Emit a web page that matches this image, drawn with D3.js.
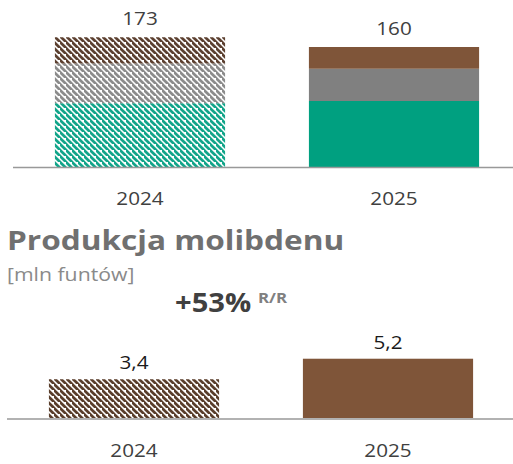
<!DOCTYPE html>
<html lang="pl">
<head>
<meta charset="UTF-8">
<title>Produkcja</title>
<script src="https://d3js.org/d3.v7.min.js"></script>
<style>
    html, body {
        margin: 0;
        background: #fff;
        font-family: "Open Sans", sans-serif;
    }
</style>
</head>
<body>
<div id="vis"></div>
<script>
    // dane
    var years = ["2024", "2025"];
    var seriesKeys = ["a", "b", "c"];            // od dołu: zielony, szary, brązowy
    var topValues = [
        {year: "2024", a: 85, b: 53, c: 35},
        {year: "2025", a: 88, b: 43, c: 29}
    ];
    var topTotals = ["173", "160"];
    var moValues = [3.4, 5.2];
    var moLabels = ["3,4", "5,2"];

    var colors = {a: "#00a080", b: "#808080", c: "#7f5539"};
    var hatchColors = {a: "#12a58a", b: "#8c8c8c", c: "#5c4030"};

    var W = 513, H = 464;
    var SX = 1.15;   // tekst w oryginale jest nieco szerszy

    var svg = d3.select("#vis").append("svg")
        .attr("width", W)
        .attr("height", H);

    // pozycjonowanie tekstu z rozciągnięciem w poziomie
    function place(sel, fx, fy, sx) {
        sel.attr("transform", function(d, i) {
            var x = typeof fx == "function" ? fx(d, i) : fx;
            var y = typeof fy == "function" ? fy(d, i) : fy;
            return "translate(" + x + "," + y + ") scale(" + (sx || SX) + ",1)";
        });
        return sel;
    }

    // wzory kreskowania
    var defs = svg.append("defs");
    function hatch(id, col) {
        var p = defs.append("pattern")
            .attr("id", id)
            .attr("patternUnits", "userSpaceOnUse")
            .attr("width", 6)
            .attr("height", 6);
        p.append("rect").attr("width", 6).attr("height", 6).attr("fill", "#fff");
        p.append("path")
            .attr("d", "M-1,-1 L7,7 M-4,2 L1,7 M5,-4 L10,1")
            .attr("stroke", col)
            .attr("stroke-width", 2.7);
    }
    seriesKeys.forEach(function(k) { hatch("h_" + k, hatchColors[k]); });
    hatch("h_mo", "#5a3e2b");

    /*
     *  GÓRNY WYKRES
     */
    var x1 = d3.scaleBand()
        .domain(years)
        .range([13, 521])
        .paddingInner(0.33)
        .paddingOuter(0.165);

    var y1 = d3.scaleLinear()
        .domain([0, 200])
        .range([167, 17]);

    var stack = d3.stack().keys(seriesKeys)(topValues);

    var g1 = svg.append("g");

    g1.selectAll(".layer")
        .data(stack)
        .enter()
        .append("g")
        .attr("class", "layer")
        .each(function(layer) {
            d3.select(this).selectAll("rect")
                .data(layer)
                .enter()
                .append("rect")
                .attr("x", function(d) { return x1(d.data.year); })
                .attr("width", x1.bandwidth())
                .attr("y", function(d) { return y1(d[1]); })
                .attr("height", function(d) { return y1(d[0]) - y1(d[1]); })
                .attr("fill", function(d, i) {
                    return i == 0 ? "url(#h_" + layer.key + ")" : colors[layer.key];
                });
        });

    g1.append("line")
        .attr("x1", 13).attr("x2", W)
        .attr("y1", 167.5).attr("y2", 167.5)
        .attr("stroke", "#999")
        .attr("stroke-width", 1.5);

    place(g1.selectAll(".total")
        .data(topValues)
        .enter()
        .append("text")
        .attr("class", "total")
        .attr("text-anchor", "middle")
        .attr("font-size", 18)
        .attr("fill", "#404040")
        .text(function(d, i) { return topTotals[i]; }),
        function(d) { return x1(d.year) + x1.bandwidth() / 2; },
        function(d) { return y1(d.a + d.b + d.c) - 12; });

    place(g1.selectAll(".year")
        .data(years)
        .enter()
        .append("text")
        .attr("class", "year")
        .attr("text-anchor", "middle")
        .attr("font-size", 18)
        .attr("fill", "#404040")
        .text(function(d) { return d; }),
        function(d) { return x1(d) + x1.bandwidth() / 2; },
        205);

    /*
     *  DOLNY WYKRES - molibden
     */
    place(svg.append("text")
        .attr("font-size", 27)
        .attr("font-weight", "bold")
        .attr("fill", "#707070")
        .text("Produkcja molibdenu"), 7, 250, 1.17);

    place(svg.append("text")
        .attr("font-size", 18)
        .attr("fill", "#8a8a8a")
        .text("[mln funtów]"), 7, 281, 1.18);

    var yoy = place(svg.append("text")
        .attr("font-weight", "bold"), 175, 312, 1.12);
    yoy.append("tspan")
        .attr("font-size", 26)
        .attr("fill", "#404040")
        .text("+53%");
    yoy.append("tspan")
        .attr("font-size", 15)
        .attr("dx", 6)
        .attr("dy", -9)
        .attr("fill", "#808080")
        .text("R/R");

    var x2 = d3.scaleBand()
        .domain(years)
        .range([7, 515])
        .paddingInner(0.33)
        .paddingOuter(0.165);

    var y2 = d3.scaleLinear()
        .domain([0, 6])
        .range([418, 418 - 6 * 11.4]);

    var g2 = svg.append("g");

    g2.selectAll(".bar")
        .data(moValues)
        .enter()
        .append("rect")
        .attr("class", "bar")
        .attr("x", function(d, i) { return x2(years[i]); })
        .attr("width", x2.bandwidth())
        .attr("y", function(d) { return y2(d); })
        .attr("height", function(d) { return y2(0) - y2(d); })
        .attr("fill", function(d, i) { return i == 0 ? "url(#h_mo)" : "#7f5539"; });

    g2.append("line")
        .attr("x1", 7).attr("x2", W)
        .attr("y1", 419).attr("y2", 419)
        .attr("stroke", "#999")
        .attr("stroke-width", 1.5);

    place(g2.selectAll(".val")
        .data(moValues)
        .enter()
        .append("text")
        .attr("class", "val")
        .attr("text-anchor", "middle")
        .attr("font-size", 18)
        .attr("fill", "#1a1a1a")
        .text(function(d, i) { return moLabels[i]; }),
        function(d, i) { return x2(years[i]) + x2.bandwidth() / 2; },
        function(d) { return y2(d) - 10; });

    place(g2.selectAll(".year")
        .data(years)
        .enter()
        .append("text")
        .attr("class", "year")
        .attr("text-anchor", "middle")
        .attr("font-size", 18)
        .attr("fill", "#404040")
        .text(function(d) { return d; }),
        function(d) { return x2(d) + x2.bandwidth() / 2; },
        457);
</script>
</body>
</html>
